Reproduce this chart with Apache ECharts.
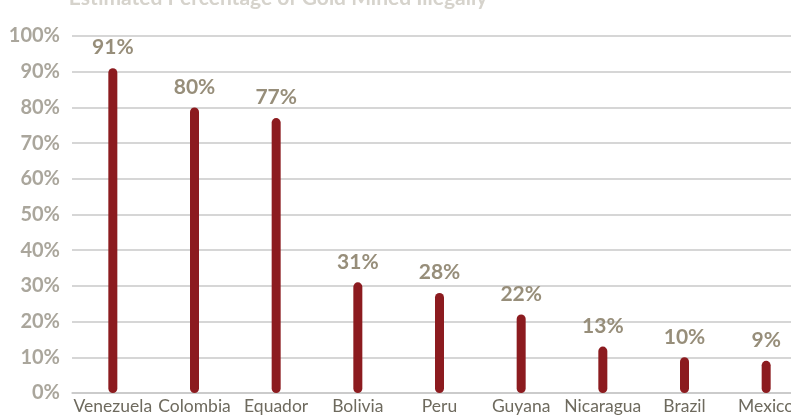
<!DOCTYPE html>
<html>
<head>
<meta charset="utf-8">
<script src="https://cdn.jsdelivr.net/npm/echarts@6/dist/echarts.min.js"></script>
<style>
html,body{margin:0;padding:0;background:#fff;overflow:hidden;}
#chart{width:808px;height:415px;}
</style>
</head>
<body>
<div id="chart"></div>
<script>
var titleText = 'Estimated Percentage of Gold Mined Illegally';
var categories = ['Venezuela','Colombia','Equador','Bolivia','Peru','Guyana','Nicaragua','Brazil','Mexico'];
var values = [91, 80, 77, 31, 28, 22, 13, 10, 9];
var yTicks = [0, 10, 20, 30, 40, 50, 60, 70, 80, 90, 100];

var chart = echarts.init(document.getElementById('chart'), null, {renderer:'canvas'});
chart.setOption({
  animation: false,
  title: {
    text: titleText,
    left: 273, textAlign: 'center',
    top: -17,
    textStyle: {fontFamily: 'Lato', fontSize: 21, fontWeight: 'bold', color: '#d6d3cc'}
  },
  grid: {left: 72, right: 1, top: 36, bottom: 22},
  xAxis: {
    type: 'category',
    data: categories,
    axisLine: {show: true, lineStyle: {color: '#c8c8c8', width: 1.5}},
    axisTick: {show: false},
    axisLabel: {interval: 0, fontFamily: 'Lato', fontSize: 17.5, color: '#6e6a5e', margin: 4}
  },
  yAxis: {
    type: 'value',
    min: yTicks[0], max: yTicks[yTicks.length-1], interval: 10,
    axisLine: {show: false},
    axisTick: {show: false},
    splitLine: {lineStyle: {color: '#c9c9c9', width: 1.5}},
    axisLabel: {
      fontFamily: 'Lato', fontSize: 20, fontWeight: 'bold', color: '#aaa69c', margin: 12,
      formatter: function(v){ return v + '%'; }
    }
  },
  series: [{
    type: 'bar',
    data: values,
    barWidth: 9,
    itemStyle: {color: '#8c1b1f', borderRadius: 4.5},
    label: {
      show: true, position: 'top', distance: 10,
      fontFamily: 'Lato', fontSize: 21, fontWeight: 'bold', color: '#978e7a',
      formatter: function(p){ return p.value + '%'; }
    }
  }]
});
</script>
</body>
</html>
